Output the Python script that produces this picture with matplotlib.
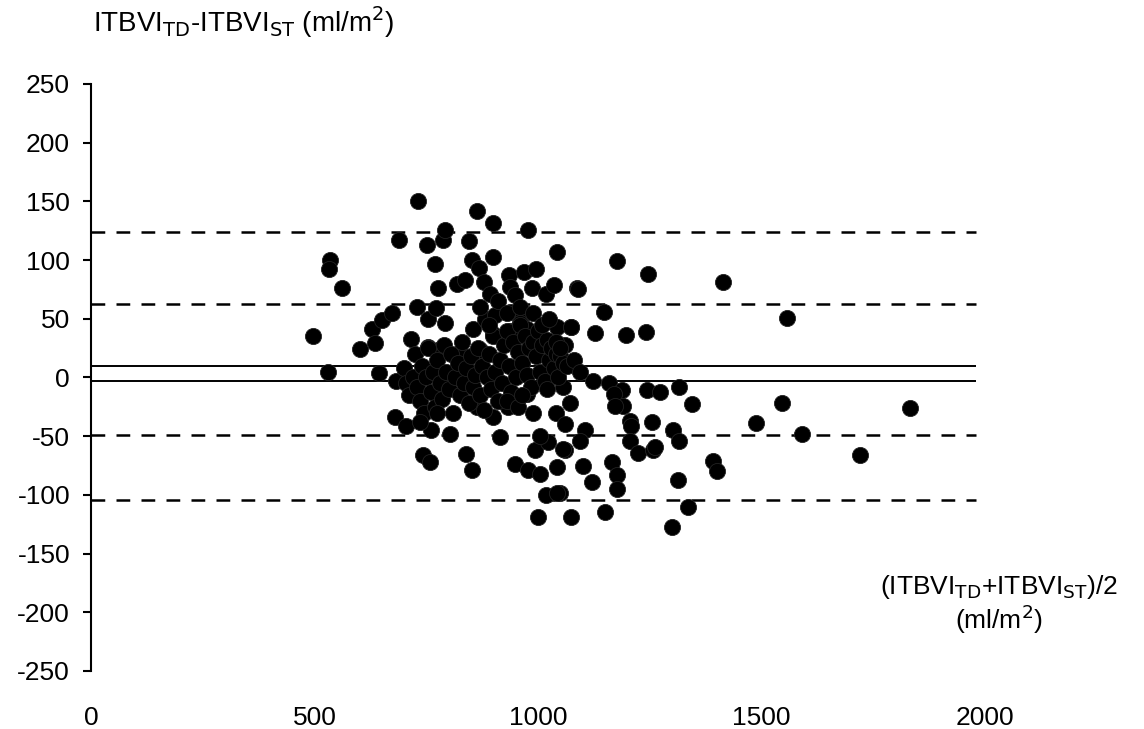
import numpy as np
import matplotlib.pyplot as plt

plt.rcParams['font.family'] = ['Liberation Sans', 'DejaVu Sans']
plt.rcParams['axes.unicode_minus'] = False

# mean of the two methods (ml/m2)
mean_x = [
    497, 531, 535, 532, 561, 602, 628, 635, 650, 673, 644, 689, 732, 729,
    751, 755, 773, 792, 788, 793, 770, 777, 818, 837, 846, 852, 864, 868,
    879, 893, 899, 899, 936, 937, 949, 969, 978, 986, 995, 1019, 1036, 1042,
    1087, 854, 881, 904, 937, 967, 900, 937, 960, 975, 1042, 1075, 717, 870,
    826, 755, 781,
    # right half
    1177, 1247, 1413, 1089, 1558, 1148, 1074, 1128, 1197, 1242, 1124, 1160,
    1187, 1243, 1273, 1316, 1072, 1169, 1191, 1172, 1206, 1209, 1206, 1224,
    1258, 1262, 1254, 1303, 1316, 1344, 1545, 1832, 1488, 1590, 1720, 1105,
    1094, 1060, 1101, 1120, 1165, 1176, 1176, 1314, 1392, 1401, 1075, 1150,
    1336, 1299, 1049,
    # lower left
    680, 705, 743, 758, 803, 840, 852, 863, 900, 915, 934, 975, 949, 978,
    1004, 993, 1023, 1057, 1042, 1019, 1042, 1001, 1057,
    # dense cluster
    682, 700, 705, 712, 720, 725, 730, 735, 740, 745, 750, 755, 760, 765,
    770, 775, 780, 785, 790, 795, 800, 805, 810, 815, 820, 825, 830, 835,
    840, 845, 850, 855, 860, 865, 870, 875, 880, 885, 890, 895, 900, 905,
    910, 915, 920, 925, 930, 935, 940, 945, 950, 955, 960, 965, 970, 975,
    980, 985, 990, 995, 1000, 1005, 1010, 1015, 1020, 1025, 1030, 1035,
    1040, 1045, 1050, 1055, 1065, 1080, 1095, 1060,
    760, 775, 735, 930, 955, 965, 990, 1020, 1040, 1060, 1005,
    870, 890, 910, 930, 960, 990, 1010, 1025, 1040, 1050,
]

# difference of the two methods (ml/m2)
diff_y = [
    35, 5, 100, 92, 76, 24, 41, 29, 49, 55, 4, 117, 150, 60,
    113, 50, 59, 46, 117, 126, 97, 76, 80, 83, 116, 100, 142, 93,
    81, 71, 132, 103, 87, 77, 70, 90, 126, 76, 92, 71, 79, 107,
    76, 41, 50, 53, 56, 54, 37, 40, 46, 41, 43, 43, 33, 23,
    22, 26, 24,
    99, 88, 81, 75, 51, 56, 43, 38, 36, 39, -3, -5,
    -11, -11, -12, -8, -22, -14, -24, -24, -37, -41, -54, -64,
    -62, -59, -38, -45, -54, -23, -22, -26, -39, -48, -66, -45,
    -54, -62, -75, -89, -72, -83, -95, -87, -71, -80, -119, -115,
    -110, -127, -98,
    -34, -41, -66, -72, -48, -65, -79, -25, -34, -51, -25, -14, -74, -79,
    -82, -62, -55, -61, -76, -100, -98, -119, -8,
    -3, 8, -5, -15, 0, 20, -8, -20, 10, -30, 0, 25, -12, 5,
    -25, 15, -5, -18, 28, 5, -10, 20, -30, 0, 12, -15, 30, -5,
    8, -22, 18, -8, 2, 25, -15, 10, -28, 0, 20, -10, 35, 5,
    -20, 15, -5, 28, 40, 10, -12, 30, 0, 22, 45, 12, 35, 2,
    25, -8, 30, 18, 40, 5, 28, -3, 32, 15, 25, 8,
    20, 0, 18, 12, 10, 15, 5, 28,
    -45, -30, -38, -20, -25, -15, -30, -10, -30, -40, -50,
    60, 45, 65, 55, 60, 55, 45, 50, 30, 25,
]

limit_lines = [124, 63, -49, -104]
bias_lines = [9.5, -3]

fig = plt.figure(figsize=(11.44, 7.29), dpi=100)
ax = fig.add_axes([0.0795, 0.0796, 0.7815, 0.8052])

for v in limit_lines:
    ax.hlines(v, 0, 1980, colors='black', linewidth=1.8,
              linestyles=(0, (5.5, 4.5)), zorder=1)
for v in bias_lines:
    ax.hlines(v, 0, 1980, colors='black', linewidth=1.4, zorder=1)

ax.scatter(mean_x, diff_y, s=135, color='black', edgecolors='#222222',
           linewidths=0.6, zorder=2)

ax.set_xlim(0, 2000)
ax.set_ylim(-250, 250)
ax.set_xticks([0, 500, 1000, 1500, 2000])
ax.set_yticks(np.arange(-250, 251, 50))
ax.spines['top'].set_visible(False)
ax.spines['right'].set_visible(False)
ax.spines['bottom'].set_visible(False)
ax.spines['left'].set_linewidth(1.5)
ax.tick_params(axis='y', direction='out', length=6, width=1.5, pad=9,
               labelsize=19)
ax.tick_params(axis='x', length=0, pad=25, labelsize=19)

fig.text(0.081, 0.970, r'ITBVI$_{\mathrm{TD}}$-ITBVI$_{\mathrm{ST}}$ (ml/m$^{2}$)',
         fontsize=20, ha='left', va='center')
fig.text(0.873, 0.195, r'(ITBVI$_{\mathrm{TD}}$+ITBVI$_{\mathrm{ST}}$)/2',
         fontsize=19, ha='center', va='center')
fig.text(0.873, 0.150, r'(ml/m$^{2}$)', fontsize=19, ha='center', va='center')

fig.savefig('out.png', dpi=100)
